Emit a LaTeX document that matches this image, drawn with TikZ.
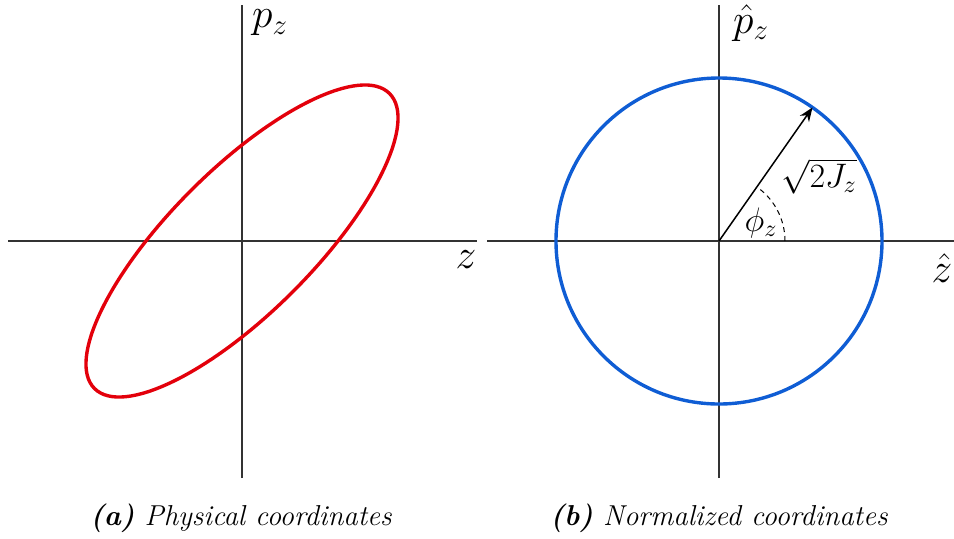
\RequirePackage{fix-cm}
\documentclass[tikz,border=0pt]{standalone}
\usepackage{amsmath}
\usepackage{tikz}
\usetikzlibrary{arrows.meta}
\definecolor{physred}{HTML}{E3000B}
\definecolor{normblue}{HTML}{0F5DD4}
\definecolor{axisgray}{HTML}{333333}

\begin{document}
\begin{tikzpicture}[x=0.5pt,y=0.5pt,
  axisline/.style={axisgray,line width=0.7pt},
  orbit/.style={line width=1.7pt},
  axislabel/.style={inner sep=0pt,font=\fontsize{20.74}{25}\selectfont},
  anglabel/.style={inner sep=0pt,font=\fontsize{17}{20}\selectfont},
  subcap/.style={anchor=base,font=\fontsize{14.4}{17}\selectfont\itshape}]
  \useasboundingbox (0,0) rectangle (954,538);

  % (a) physical coordinates
  \coordinate (oa) at (242,297);
  \coordinate (za) at (8,297);   \coordinate (zb) at (477,297);
  \coordinate (pa) at (242,60);  \coordinate (pb) at (242,533);
  \draw[axisline] (za) -- (zb);
  \draw[axisline] (pa) -- (pb);
  \draw[orbit,physred,rotate around={45:(oa)}] (oa) ellipse (208.6 and 71.8);
  \node[axislabel] (zlab) at (466,278) {$z$};
  \node[axislabel] (plab) at (270,515) {$p_z$};

  % (b) normalized coordinates
  \coordinate (ob) at (719,297);
  \coordinate (zc) at (487,297); \coordinate (zd) at (954,297);
  \coordinate (pc) at (719,60);  \coordinate (pd) at (719,533);
  \draw[axisline] (zc) -- (zd);
  \draw[axisline] (pc) -- (pd);
  \draw[orbit,normblue] (ob) circle (163);
  \coordinate (tip) at ([shift={(55:163)}]ob);
  \draw[line width=0.75pt,-{Stealth[length=7pt,width=5.5pt]}] (ob) -- (tip);
  \draw[dashed,line width=0.5pt,dash pattern=on 2.5pt off 2pt] ([shift={(0:66)}]ob) arc[start angle=0,end angle=55,radius=66];
  \node[axislabel] (zhat) at (942,270) {$\hat{z}$};
  \node[axislabel] (phat) at (751,515) {$\hat{p}_z$};
  \node[anglabel] (rlab) at (819,362) {$\sqrt{2J_z}$};
  \node[anglabel] (philab) at (761,315) {$\phi_z$};

  % captions
  \node[subcap] (capa) at (241,13) {\textbf{(a)} Physical coordinates};
  \node[subcap] (capb) at (719,13) {\textbf{(b)} Normalized coordinates};
\end{tikzpicture}
\end{document}
